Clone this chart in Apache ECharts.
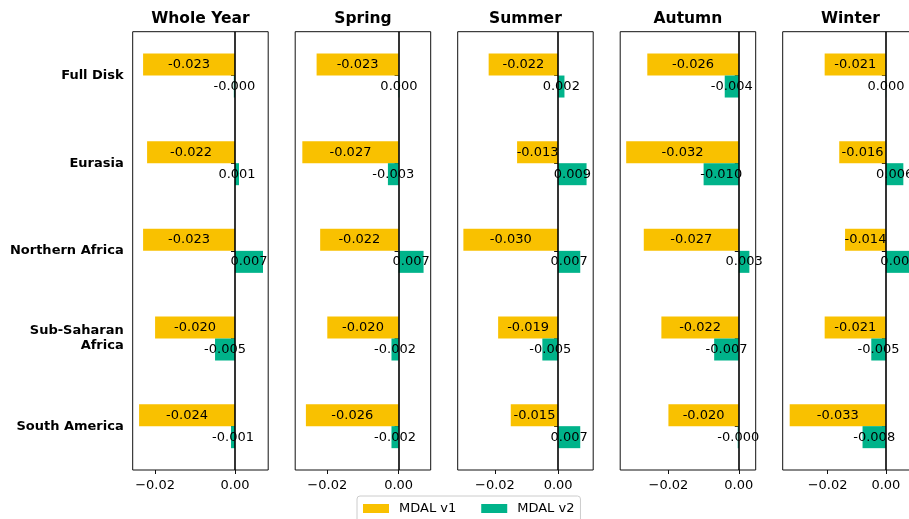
<!DOCTYPE html>
<html>
<head>
<meta charset="utf-8">
<script src="https://cdn.jsdelivr.net/npm/echarts@6/dist/echarts.min.js"></script>
<style>html,body{margin:0;padding:0;background:#fff;}#c{width:909px;height:519px;}</style>
</head>
<body>
<div id="c"></div>
<script>
const categories = ['Full Disk', 'Eurasia', 'Northern Africa', 'Sub-Saharan\nAfrica', 'South America'];
const panelTitles = ['Whole Year', 'Spring', 'Summer', 'Autumn', 'Winter'];
const seriesNames = ['MDAL v1', 'MDAL v2'];

const wholeYearV1 = [-0.023, -0.022, -0.023, -0.020, -0.024];
const wholeYearV2 = [-0.0003, 0.001, 0.007, -0.005, -0.001];
const springV1 = [-0.023, -0.027, -0.022, -0.020, -0.026];
const springV2 = [0.0002, -0.003, 0.007, -0.002, -0.002];
const summerV1 = [-0.022, -0.013, -0.030, -0.019, -0.015];
const summerV2 = [0.002, 0.009, 0.007, -0.005, 0.007];
const autumnV1 = [-0.026, -0.032, -0.027, -0.022, -0.020];
const autumnV2 = [-0.004, -0.010, 0.003, -0.007, -0.0003];
const winterV1 = [-0.021, -0.016, -0.014, -0.021, -0.033];
const winterV2 = [0.0001, 0.006, 0.009, -0.005, -0.008];

const xMins = [-0.0256, -0.0290, -0.0318, -0.0337, -0.0354];
const xMaxs = [0.0083, 0.0090, 0.0111, 0.0048, 0.0111];
const xTickValues = [-0.02, 0.00];

const panelV1 = [wholeYearV1, springV1, summerV1, autumnV1, winterV1];
const panelV2 = [wholeYearV2, springV2, summerV2, autumnV2, winterV2];

const colors = ['#F9C100', '#00B38A'];
const FONT = 'DejaVu Sans';
const gridLefts = [132.7, 295.2, 457.7, 620.2, 782.7];
const gridWidth = 135.5;
const gridTop = 31.7;
const gridHeight = 438.3;

const grid = [], xAxis = [], yAxis = [], series = [], title = [];
for (let i = 0; i < 5; i++) {
  grid.push({left: gridLefts[i], top: gridTop, width: gridWidth, height: gridHeight,
    show: true, borderColor: '#111', borderWidth: 1, backgroundColor: '#fff',
    containLabel: false, outerBoundsMode: 'none'});
  xAxis.push({type: 'value', gridIndex: i, min: xMins[i], max: xMaxs[i],
    splitLine: {show: false}, axisLine: {show: false},
    axisTick: {show: true, inside: false, length: 4, lineStyle: {color: '#111'}, customValues: xTickValues},
    axisLabel: {show: true, margin: 9, color: '#000', fontFamily: FONT, fontSize: 13, customValues: xTickValues,
      formatter: v => v.toFixed(2).replace('-', '\u2212')}});
  yAxis.push({type: 'category', gridIndex: i, data: categories, inverse: true,
    axisLine: {show: false},
    axisTick: {show: true, alignWithLabel: true, length: 4, lineStyle: {color: '#111'}},
    axisLabel: {show: i === 0, margin: 9, color: '#000', fontFamily: FONT, fontSize: 13, fontWeight: 'bold', lineHeight: 15, align: 'right'}});
  title.push({text: panelTitles[i], left: gridLefts[i] + gridWidth / 2, top: 11, textAlign: 'center', padding: 0,
    textStyle: {fontFamily: FONT, fontSize: 15.5, fontWeight: 'bold', color: '#000'}});
  const lbl = {show: true, position: 'inside', color: '#000', fontFamily: FONT, fontSize: 13,
    formatter: p => p.value.toFixed(3)};
  series.push({name: seriesNames[0], type: 'bar', xAxisIndex: i, yAxisIndex: i, data: panelV1[i],
    barWidth: 22, barGap: '0%', itemStyle: {color: colors[0]}, label: lbl, animation: false,
    markLine: {silent: true, symbol: 'none', label: {show: false}, animation: false,
      lineStyle: {color: '#000', width: 1.6, type: 'solid'}, data: [{xAxis: 0}]}});
  series.push({name: seriesNames[1], type: 'bar', xAxisIndex: i, yAxisIndex: i, data: panelV2[i],
    barWidth: 22, barGap: '0%', itemStyle: {color: colors[1]}, label: lbl, animation: false});
}

const chart = echarts.init(document.getElementById('c'), null, {renderer: 'canvas'});
chart.setOption({
  animation: false,
  color: colors,
  title, grid, xAxis, yAxis, series,
  legend: {data: seriesNames, left: 357, top: 496, orient: 'horizontal',
    itemWidth: 26, itemHeight: 9, itemGap: 25, icon: 'rect',
    backgroundColor: 'rgba(255,255,255,0.8)', borderColor: '#ccc', borderWidth: 1, borderRadius: 3,
    padding: [6, 6, 8, 6],
    textStyle: {fontFamily: FONT, fontSize: 13, color: '#000', padding: [0, 0, 0, 5]}}
});
</script>
</body>
</html>
